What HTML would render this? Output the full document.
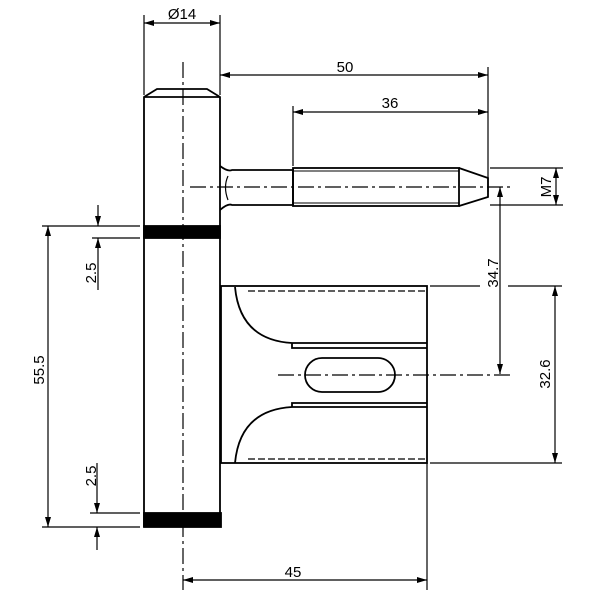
<!DOCTYPE html>
<html><head><style>body{margin:0;background:#fff}svg{display:block}</style></head><body>
<svg width="600" height="600" viewBox="0 0 600 600" xmlns="http://www.w3.org/2000/svg" font-family="Liberation Sans, sans-serif" font-size="15">
<defs>
<marker id="a" viewBox="0 0 10 6" refX="10" refY="3" markerWidth="10" markerHeight="6" orient="auto-start-reverse" markerUnits="userSpaceOnUse"><path d="M0,0L10,3L0,6z" fill="#000"/></marker>
</defs>
<g stroke="#000" fill="none" stroke-width="1.8">
<path d="M144,527V97L157,89H207L220,97V527"/>
<line x1="144" y1="97" x2="220" y2="97"/>
<rect x="144" y="226" width="76" height="12" fill="#000"/>
<rect x="144" y="513" width="77" height="14" fill="#000"/>
<path d="M220,166Q228,172 232,170H293V205H232Q228,203 220,210"/>
<path d="M228,176Q223,187 228,200" stroke-width="1.2"/>
<rect x="293" y="168" width="166" height="38"/>
<line x1="293" y1="171" x2="459" y2="171" stroke-width="1"/>
<line x1="293" y1="203" x2="459" y2="203" stroke-width="1"/>
<path d="M459,168L488,178V197L459,206"/>
<rect x="221" y="286" width="206" height="177"/>
<path d="M235,287Q240,340 292,343H427M292,343V348H427"/>
<path d="M235,463Q240,410 292,407H427M292,407V403H427"/>
<rect x="305" y="358" width="90" height="34" rx="17"/>
<path d="M248,291H427M248,459H427" stroke-dasharray="7,3" stroke-width="1.3"/>
</g>
<g stroke="#000" fill="none" stroke-width="1.2">
<line x1="183" y1="62" x2="183" y2="590" stroke-dasharray="16,4,3,4"/>
<line x1="190" y1="187" x2="510" y2="187" stroke-dasharray="16,4,3,4"/>
<line x1="278" y1="375" x2="510" y2="375" stroke-dasharray="16,4,3,4"/>
<path d="M144,15V95M220,15V95"/>
<line x1="144" y1="23" x2="220" y2="23" marker-start="url(#a)" marker-end="url(#a)"/>
<line x1="488" y1="67" x2="488" y2="192"/>
<line x1="220" y1="75" x2="488" y2="75" marker-start="url(#a)" marker-end="url(#a)"/>
<line x1="293" y1="106" x2="293" y2="166"/>
<line x1="293" y1="112" x2="488" y2="112" marker-start="url(#a)" marker-end="url(#a)"/>
<path d="M490,168H563M490,205H563"/>
<line x1="556" y1="168" x2="556" y2="205" marker-start="url(#a)" marker-end="url(#a)"/>
<line x1="500" y1="187" x2="500" y2="374" marker-start="url(#a)" marker-end="url(#a)"/>
<path d="M430,286H480M508,286H562M430,463H562"/>
<line x1="555" y1="286" x2="555" y2="463" marker-start="url(#a)" marker-end="url(#a)"/>
<line x1="427" y1="463" x2="427" y2="590"/>
<line x1="183" y1="580" x2="427" y2="580" marker-start="url(#a)" marker-end="url(#a)"/>
<path d="M42,226H140M42,527H140M92,238H140M90,513H140"/>
<line x1="48" y1="226" x2="48" y2="527" marker-start="url(#a)" marker-end="url(#a)"/>
<line x1="98" y1="205" x2="98" y2="226" marker-end="url(#a)"/>
<line x1="98" y1="290" x2="98" y2="238" marker-end="url(#a)"/>
<line x1="97" y1="463" x2="97" y2="513" marker-end="url(#a)"/>
<line x1="97" y1="550" x2="97" y2="527" marker-end="url(#a)"/>
</g>
<g fill="#000" text-anchor="middle">
<text x="182" y="19">Ø14</text>
<text x="345" y="72">50</text>
<text x="390" y="108">36</text>
<text x="293" y="577">45</text>
<text transform="translate(551,187) rotate(-90)">M7</text>
<text transform="translate(498,273) rotate(-90)">34.7</text>
<text transform="translate(550,374) rotate(-90)">32.6</text>
<text transform="translate(44,370) rotate(-90)">55.5</text>
<text transform="translate(96,273) rotate(-90)">2.5</text>
<text transform="translate(96,476) rotate(-90)">2.5</text>
</g>
</svg>
</body></html>
